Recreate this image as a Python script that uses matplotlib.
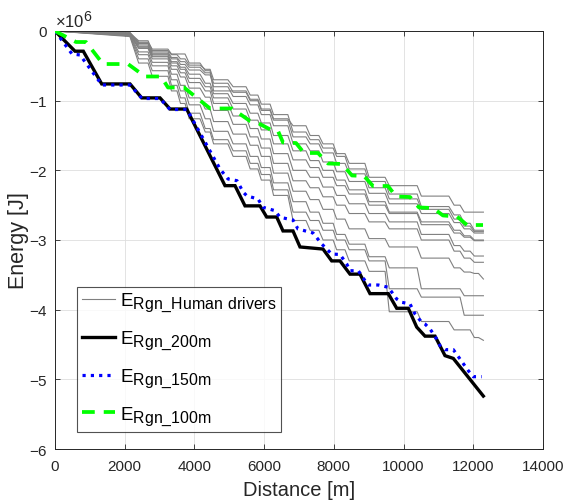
import numpy as np
import matplotlib
matplotlib.use('Agg')
import matplotlib.pyplot as plt
import matplotlib._mathtext as _mt
from matplotlib.ticker import ScalarFormatter

plt.rcParams['font.family'] = ['Liberation Sans', 'DejaVu Sans']
plt.rcParams['axes.unicode_minus'] = False
plt.rcParams['mathtext.default'] = 'regular'
_mt.SHRINK_FACTOR = 0.85  # larger sub/superscripts, like the original TeX rendering

SCALE = 1e6  # values below are in units of 1e6 J

# ---- controlled strategies (distance [m], energy [1e6 J]) ----
black_x = [0, 574, 812, 1340, 2152, 2487, 3012, 3299, 3778, 4877, 5164, 5451, 5881, 6073, 6360, 6541, 6828,
           7029, 7689, 7938, 8176, 8463, 8750, 9037, 9562, 9803, 10136, 10377, 10615, 10902, 11189, 11427, 12288]
black_y = [0, -0.29, -0.29, -0.76, -0.76, -0.96, -0.96, -1.12, -1.12, -2.22, -2.22, -2.51, -2.51, -2.67, -2.67,
           -2.87, -2.87, -3.10, -3.13, -3.30, -3.30, -3.49, -3.49, -3.77, -3.77, -3.98, -3.98, -4.25, -4.38,
           -4.38, -4.66, -4.70, -5.24]

blue_x = [0, 488, 717, 1348, 2152, 2496, 3012, 3299, 3787, 4734, 4963, 5221, 5402, 5508, 5824, 5967, 6312,
          6455, 6828, 6971, 7402, 7651, 7938, 8176, 8369, 8463, 8701, 8894, 8988, 9275, 9562, 9803, 9946,
          10185, 10328, 10520, 10615, 10758, 10902, 11045, 11189, 11427, 11619, 11857, 12001, 12242]
blue_y = [0, -0.330, -0.344, -0.775, -0.775, -0.969, -0.969, -1.127, -1.127, -1.981, -2.124, -2.149, -2.315,
          -2.368, -2.411, -2.531, -2.579, -2.674, -2.713, -2.842, -2.899, -3.057, -3.201, -3.208, -3.344,
          -3.441, -3.441, -3.584, -3.646, -3.646, -3.679, -3.847, -3.894, -3.918, -4.062, -4.181, -4.206,
          -4.277, -4.382, -4.517, -4.574, -4.574, -4.708, -4.876, -4.962, -4.962]

green_x = [0, 602, 889, 1377, 2094, 2582, 3041, 3242, 3701, 4447, 5078, 5594, 5824, 6254, 6398, 6541, 6914,
           7144, 7545, 7832, 8234, 8521, 8865, 9123, 9553, 9783, 10185, 10443, 10844, 11131, 11533, 11820, 12279]
green_y = [0, -0.158, -0.158, -0.474, -0.474, -0.653, -0.653, -0.811, -0.811, -1.112, -1.112, -1.292, -1.321,
           -1.435, -1.435, -1.600, -1.608, -1.751, -1.751, -1.902, -1.909, -2.074, -2.081, -2.225, -2.225,
           -2.375, -2.383, -2.533, -2.541, -2.648, -2.663, -2.785, -2.785]

# ---- human drivers: common braking locations [m], their lengths [m], and energy level after each ----
step_x = [2150, 2670, 3240, 3500, 3730, 4160, 4450, 4960, 5480, 5820, 6170, 6680, 7200, 7570, 7980, 8320,
          8890, 9470, 10390, 11300, 11620, 11910, 12150]
step_w = [250, 120, 100, 100, 120, 150, 100, 150, 120, 100, 100, 150, 120, 120, 100, 120, 120, 120, 120, 150,
          120, 120, 140]
human_end_x = 12290
human_start = [-0.02, -0.03, -0.03, -0.04, -0.04, -0.05, -0.05, -0.06, -0.06, -0.07, -0.07, -0.08]
human_levels = [
    [-0.16, -0.26, -0.33, -0.33, -0.46, -0.57, -0.86, -0.86, -0.98, -1.12, -1.26, -1.36, -1.50, -1.62, -1.76, -1.90, -2.10, -2.22, -2.37, -2.50, -2.60, -2.60, -2.60],
    [-0.14, -0.28, -0.34, -0.40, -0.49, -0.55, -0.70, -0.80, -0.92, -1.05, -1.20, -1.45, -1.56, -1.68, -1.80, -1.98, -2.16, -2.34, -2.52, -2.64, -2.76, -2.86, -2.86],
    [-0.18, -0.30, -0.38, -0.44, -0.52, -0.60, -0.75, -0.88, -1.00, -1.14, -1.28, -1.52, -1.62, -1.75, -1.90, -2.05, -2.25, -2.41, -2.56, -2.70, -2.80, -2.88, -2.88],
    [-0.17, -0.32, -0.40, -0.48, -0.56, -0.63, -0.80, -0.94, -1.06, -1.20, -1.36, -1.62, -1.72, -1.88, -2.02, -2.16, -2.33, -2.48, -2.62, -2.75, -2.84, -2.90, -2.90],
    [-0.20, -0.34, -0.44, -0.52, -0.62, -0.75, -0.90, -1.04, -1.18, -1.32, -1.50, -1.72, -1.86, -2.00, -2.14, -2.28, -2.45, -2.60, -2.74, -2.86, -2.94, -3.00, -3.00],
    [-0.22, -0.36, -0.46, -0.55, -0.68, -0.80, -0.96, -1.12, -1.28, -1.42, -1.62, -1.85, -1.96, -2.10, -2.22, -2.34, -2.50, -2.62, -2.78, -2.90, -2.96, -3.01, -3.01],
    [-0.24, -0.37, -0.50, -0.60, -0.74, -0.86, -1.04, -1.22, -1.40, -1.55, -1.76, -2.00, -2.10, -2.24, -2.36, -2.48, -2.62, -2.74, -2.92, -3.08, -3.16, -3.23, -3.23],
    [-0.25, -0.40, -0.55, -0.66, -0.82, -0.95, -1.14, -1.34, -1.52, -1.68, -1.90, -2.15, -2.25, -2.38, -2.50, -2.62, -2.74, -2.84, -3.00, -3.16, -3.26, -3.32, -3.32],
    [-0.30, -0.45, -0.62, -0.78, -0.96, -1.12, -1.30, -1.48, -1.64, -1.80, -2.04, -2.30, -2.42, -2.56, -2.70, -2.84, -2.98, -3.10, -3.26, -3.40, -3.46, -3.48, -3.56],
    [-0.34, -0.50, -0.70, -0.86, -1.06, -1.26, -1.44, -1.62, -1.80, -1.96, -2.18, -2.45, -2.60, -2.76, -2.92, -3.06, -3.24, -3.40, -3.70, -3.70, -3.80, -3.80, -3.80],
    [-0.40, -0.57, -0.78, -0.96, -1.18, -1.40, -1.56, -1.72, -1.90, -2.06, -2.28, -2.60, -2.72, -2.86, -3.00, -3.14, -3.30, -3.70, -3.82, -3.82, -4.08, -4.08, -4.08],
    [-0.46, -0.65, -0.86, -1.04, -1.26, -1.45, -1.62, -1.80, -1.98, -2.14, -2.36, -2.72, -2.86, -3.00, -3.14, -3.30, -3.45, -4.03, -4.17, -4.29, -4.29, -4.40, -4.44],
]

x_ticks = [0, 2000, 4000, 6000, 8000, 10000, 12000, 14000]
y_ticks = [-6, -5, -4, -3, -2, -1, 0]

labels = [r'$E_{Rgn\_Human\ drivers}$', r'$E_{Rgn\_200m}$', r'$E_{Rgn\_150m}$', r'$E_{Rgn\_100m}$']

fig = plt.figure(figsize=(5.67, 5.02), dpi=100)
ax = fig.add_axes([55/567, 52/502, 488/567, 418/502])

axc = '#262626'
for k, (st, lv) in enumerate(zip(human_start, human_levels)):
    xs = [0, step_x[0]]
    ys = [0, st]
    prev = st
    for sx, w, v in zip(step_x, step_w, lv):
        xs += [sx, sx + w]
        ys += [prev, v]
        prev = v
    xs.append(human_end_x)
    ys.append(prev)
    ax.plot(xs, np.array(ys) * SCALE, color='#808080', lw=0.8,
            label=labels[0] if k == 0 else None, zorder=2)

ax.plot(black_x, np.array(black_y) * SCALE, color='black', lw=2.4, label=labels[1], zorder=3,
        solid_joinstyle='miter')
ax.plot(blue_x, np.array(blue_y) * SCALE, color='#0000ff', lw=2.3, ls=(0, (1, 1.6)), label=labels[2],
        zorder=4)
ax.plot(green_x, np.array(green_y) * SCALE, color='#00ff00', lw=2.7, ls=(0, (3.4, 2.4)), label=labels[3],
        zorder=5)

ax.set_xlim(0, 14000)
ax.set_ylim(-6e6, 0)
ax.set_xticks(x_ticks)
ax.set_yticks(np.array(y_ticks) * SCALE)
fmt = ScalarFormatter(useMathText=True)
fmt.set_powerlimits((0, 0))
ax.yaxis.set_major_formatter(fmt)
ax.yaxis.get_offset_text().set_fontsize(12)
ax.yaxis.get_offset_text().set_color(axc)

ax.grid(True, color='#dedede', lw=0.6)
ax.set_axisbelow(True)
ax.tick_params(direction='in', length=3.5, width=0.6, colors=axc, labelsize=11,
               top=True, right=True)
ax.tick_params(axis='x', pad=7)
ax.tick_params(axis='y', pad=5)
for sp in ax.spines.values():
    sp.set_color(axc)
    sp.set_linewidth(0.7)

ax.set_xlabel('Distance [m]', fontsize=14.5, color=axc, labelpad=5)
ax.set_ylabel('Energy [J]', fontsize=15.5, color=axc, labelpad=0)

leg = ax.legend(loc='lower left', bbox_to_anchor=(0.045, 0.041), borderaxespad=0, fontsize=13.5,
                frameon=True, fancybox=False, edgecolor=axc, handlelength=1.8, handletextpad=0.25,
                borderpad=0.25, labelspacing=0.85)
leg.get_frame().set_linewidth(0.8)

fig.savefig('out.png', dpi=100)
